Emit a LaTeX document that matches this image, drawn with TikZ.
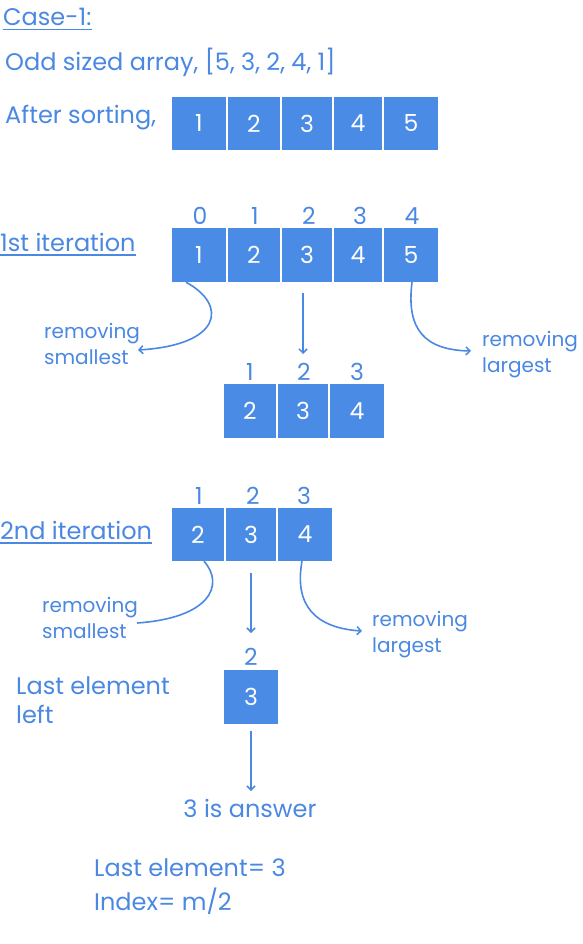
\documentclass[tikz,border=0pt]{standalone}
\usepackage{fontspec}
\setmainfont{Poppins}
\usetikzlibrary{arrows.meta}
\definecolor{tblue}{RGB}{74,136,226}
\definecolor{bblue}{RGB}{74,139,229}
\tikzset{
  main/.style={text=tblue, inner sep=0pt, anchor=west, font=\fontsize{24}{29}\selectfont},
  small/.style={text=tblue, inner sep=0pt, anchor=west, align=left, font=\fontsize{20}{26}\selectfont},
  idx/.style={text=tblue, inner sep=0pt, font=\fontsize{23.5}{25}\selectfont},
  cell/.style={fill=bblue, text=white, inner sep=0pt, font=\fontsize{23.5}{25}\selectfont},
  conn/.style={draw=tblue, line width=1.6pt},
  arr/.style={conn, -{Straight Barb[length=4pt,width=8pt,line width=1.5pt]}},
  uline/.style={draw=tblue, line width=1.3pt}
}
\newcommand{\cellat}[6]{% name, x1, x2, y1, y2, text
  \node[cell, minimum width={#3-#2}, minimum height={#5-#4}] (#1) at ({(#2+#3)/2},{(#4+#5)/2}) {#6};}
\begin{document}
\begin{tikzpicture}[x=1pt,y=-1pt]
\useasboundingbox (0,0) rectangle (582,944);

% header
\node[main] (case) at (3,17) {Case-1:};
\draw[uline] ([yshift=-4pt]case.base west) -- ([yshift=-4pt]case.base east);
\node[main] (odd) at (5,62) {Odd sized array, [5, 3, 2, 4, 1]};
\node[main] (after) at (5,118) {After sorting,};

% sorted row
\cellat{s1}{172}{226}{97}{150}{1}
\cellat{s2}{228}{280}{97}{150}{2}
\cellat{s3}{282}{332}{97}{150}{3}
\cellat{s4}{334}{382}{97}{150}{4}
\cellat{s5}{384}{438}{97}{150}{5}

% 1st iteration
\node[main] (it1) at (0,242) {1st iteration};
\draw[uline] ([yshift=-4pt]it1.base west) -- ([yshift=-4pt]it1.base east);
\cellat{a1}{172}{226}{228}{282}{1}
\cellat{a2}{228}{280}{228}{282}{2}
\cellat{a3}{282}{332}{228}{282}{3}
\cellat{a4}{334}{382}{228}{282}{4}
\cellat{a5}{384}{438}{228}{282}{5}
\node[idx] (ai0) at (200,216) {0};
\node[idx] (ai1) at (255,216) {1};
\node[idx] (ai2) at (309,216) {2};
\node[idx] (ai3) at (360,216) {3};
\node[idx] (ai4) at (412,216) {4};

\node[small] (rs1) at (44,344) {removing\\smallest};
\node[small] (rl1) at (482,355) {removing\\largest};
\coordinate (rs1e) at (138,350);
\coordinate (rl1e) at (471,351);
\coordinate (m1s) at (303,293);
\coordinate (m1e) at (303,354);
\draw[arr] ([xshift=-13pt]a1.south) .. controls (228,305) and (222,345) .. (rs1e);
\draw[arr] ([xshift=1pt]a5.south) .. controls (406,330) and (425,350) .. (rl1e);
\draw[arr] (m1s) -- (m1e);

% after 1st iteration
\cellat{b1}{224}{276}{384}{438}{2}
\cellat{b2}{278}{328}{384}{438}{3}
\cellat{b3}{330}{384}{384}{438}{4}
\node[idx] (bi1) at (250,372) {1};
\node[idx] (bi2) at (304,372) {2};
\node[idx] (bi3) at (357,372) {3};

% 2nd iteration
\node[main] (it2) at (0,530) {2nd iteration};
\draw[uline] ([yshift=-4pt]it2.base west) -- ([yshift=-4pt]it2.base east);
\cellat{c1}{172}{224}{508}{561}{2}
\cellat{c2}{226}{276}{508}{561}{3}
\cellat{c3}{278}{332}{508}{561}{4}
\node[idx] (ci1) at (199,496) {1};
\node[idx] (ci2) at (253,496) {2};
\node[idx] (ci3) at (304,496) {3};

\node[small] (rs2) at (42,618) {removing\\smallest};
\node[small] (rl2) at (372,635) {removing\\largest};
\coordinate (rs2e) at (137,623);
\coordinate (rl2e) at (362,631);
\coordinate (m2s) at (251,573);
\coordinate (m2e) at (251,633);
\draw[conn] ([xshift=6pt]c1.south) .. controls (225,585) and (210,618) .. (rs2e);
\draw[arr] ([xshift=-3pt]c3.south) .. controls (294,605) and (315,628) .. (rl2e);
\draw[arr] (m2s) -- (m2e);

% last element
\node[idx] (di2) at (251,657) {2};
\cellat{d1}{224}{278}{670}{724}{3}
\node[main, align=left] (lel) at (16,700) {Last element\\left};
\coordinate (m3s) at (251,731);
\node[main, anchor=center] (ans) at (250,808) {3 is answer};
\draw[arr] (m3s) -- (251,791);

\node[main, align=left, font=\fontsize{24}{34}\selectfont] (fin) at (94,887) {Last element= 3\\Index= m/2};
\end{tikzpicture}
\end{document}
